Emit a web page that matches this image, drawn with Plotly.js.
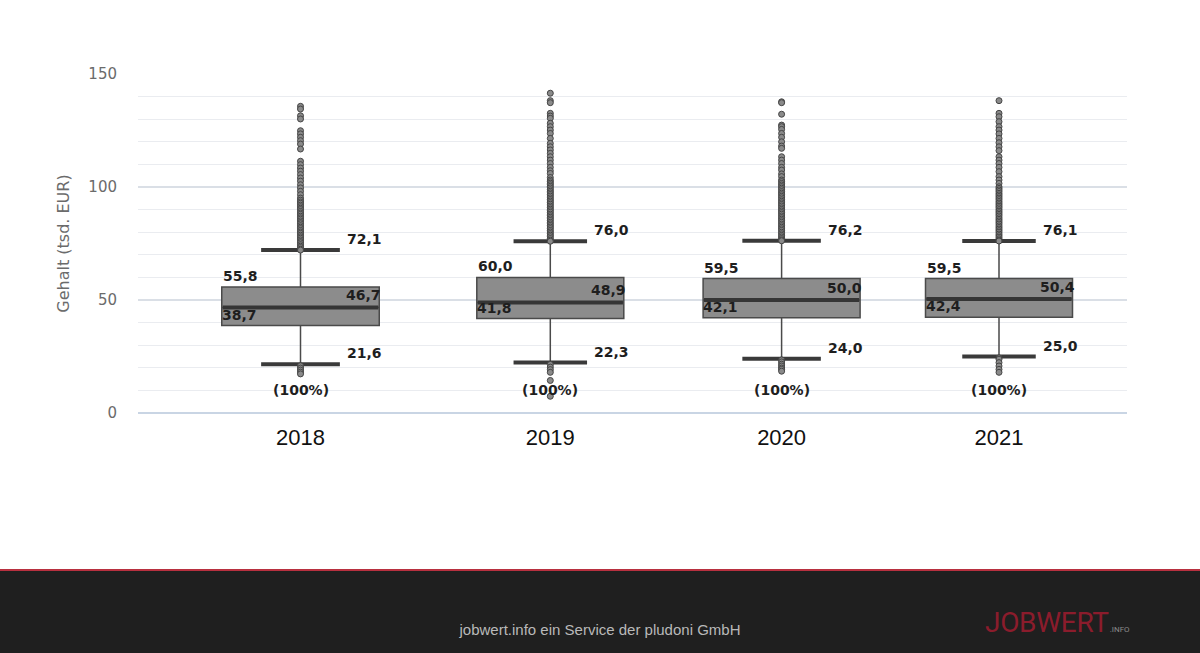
<!DOCTYPE html>
<html>
<head>
<meta charset="utf-8">
<script src="https://cdn.plot.ly/plotly-3.0.1.min.js"></script>
<style>
  html, body { margin: 0; padding: 0; background: #fff; width: 1200px; height: 653px; overflow: hidden; }
  #chart { width: 1200px; height: 569px; }
  #footer { position: absolute; left: 0; top: 569px; width: 1200px; height: 84px; background: #1f1f1f; border-top: 2px solid #b8303f; box-sizing: border-box; }
  #footer .txt { position: absolute; left: 0; width: 1200px; top: 50px; text-align: center; font-family: "Liberation Sans", Arial, sans-serif; font-size: 15px; color: #b9b9b9; }
  #footer .logo { position: absolute; left: 985px; top: 37px; font-family: "Roboto", sans-serif; font-weight: 400; font-size: 28px; color: #8b1c2c; letter-spacing: -0.3px; line-height: 30px; }
  #footer .logo span { font-size: 8px; color: #8a8a8a; letter-spacing: 0; margin-left: 1px; }
</style>
</head>
<body>
<div id="chart"></div>
<div id="footer">
  <div class="txt">jobwert.info ein Service der pludoni GmbH</div>
  <div class="logo">JOBWERT<span>.INFO</span></div>
</div>
<script>
// ---------------- DATA ----------------
const years = ["2018", "2019", "2020", "2021"];
const lowerWhisker = [21.6, 22.3, 24.0, 25.0];
const q1Values = [38.7, 41.8, 42.1, 42.4];
const medianValues = [46.7, 48.9, 50.0, 50.4];
const q3Values = [55.8, 60.0, 59.5, 59.5];
const upperWhisker = [72.1, 76.0, 76.2, 76.1];
const shareLabels = ["(100%)", "(100%)", "(100%)", "(100%)"];

const outliers2018 = [135.7, 134.5, 131.5, 130.1, 124.9, 123.5, 122.0, 120.5, 119.0, 116.8,
  111.4, 109.9, 108.4, 107.0, 105.5, 104.0, 102.6, 101.0, 99.6, 98.1, 96.6, 95.1,
  94.2, 93.4, 92.8, 92.0, 91.3, 90.6, 90.0, 89.2, 88.5, 87.9, 87.1, 86.4, 85.8, 85.0,
  84.3, 83.7, 82.9, 82.2, 81.6, 80.8, 80.1, 79.5, 78.7, 78.0, 77.4, 76.6, 75.9, 75.3,
  74.5, 73.8, 73.2, 72.5, 72.1,
  20.9, 19.9, 19.0, 18.1, 17.3];
const outliers2019 = [141.5, 138.2, 137.3, 132.6, 131.4, 130.4, 128.2, 126.7, 125.2, 123.7,
  121.5, 119.3, 117.8, 116.4, 114.9, 113.4, 111.9, 110.4, 108.7, 107.2, 106.0,
  104.2, 103.1, 102.4, 101.7, 101.0, 100.3, 99.6, 98.8, 98.1, 97.4, 96.7, 96.0, 95.2,
  94.5, 93.8, 93.1, 92.4, 91.6, 90.9, 90.2, 89.5, 88.8, 88.0, 87.3, 86.6, 85.9, 85.2,
  84.4, 83.7, 83.0, 82.3, 81.6, 80.8, 80.1, 79.4, 78.7, 78.0, 77.2, 76.5, 76.0,
  21.5, 20.3, 19.2, 18.0, 14.4, 7.4];
const outliers2020 = [137.7, 137.3, 132.2, 127.4, 126.7, 125.5, 123.7, 122.0, 120.0, 118.1,
  117.1, 113.4, 111.9, 110.4, 108.7, 107.5, 105.8, 104.6,
  103.1, 102.4, 101.6, 100.9, 100.2, 99.5, 98.8, 98.0, 97.3, 96.6, 95.9, 95.2, 94.4,
  93.7, 93.0, 92.3, 91.6, 90.8, 90.1, 89.4, 88.7, 88.0, 87.2, 86.5, 85.8, 85.1, 84.4,
  83.6, 82.9, 82.2, 81.5, 80.8, 80.0, 79.3, 78.6, 77.9, 77.2, 76.6, 76.2,
  23.5, 22.6, 21.6, 20.8, 19.9, 19.3, 18.5];
const outliers2021 = [138.2, 132.6, 131.1, 128.9, 126.7, 125.2, 123.5, 121.5, 119.6, 117.8,
  116.1, 113.4, 111.9, 110.4, 108.7, 106.8, 104.6, 103.1, 101.6,
  100.1, 99.4, 98.7, 98.0, 97.2, 96.5, 95.8, 95.1, 94.4, 93.6, 92.9, 92.2, 91.5, 90.8,
  90.0, 89.3, 88.6, 87.9, 87.2, 86.4, 85.7, 85.0, 84.3, 83.6, 82.8, 82.1, 81.4, 80.7,
  80.0, 79.2, 78.5, 77.8, 77.1, 76.5, 76.1,
  24.4, 23.8, 22.3, 20.8, 19.3, 18.0];
const outlierSeries = [outliers2018, outliers2019, outliers2020, outliers2021];

// ---------------- LAYOUT CONSTANTS (pixels) ----------------
const W = 1200, H = 569;
const M = { l: 138, r: 73, t: 74, b: 156 };
const plotW = W - M.l - M.r;
const panels = [   // panel pixel bounds, box centre, box width
  { d0: 138, d1: 430, c: 300.5, w: 157.5 },
  { d0: 430, d1: 661, c: 550.3, w: 147 },
  { d0: 661, d1: 883, c: 781.6, w: 157 },
  { d0: 883, d1: 1127, c: 999, w: 147 }
];
const BOXW = 0.5;           // box width in axis units
const CAPW = BOXW / 2;      // whisker cap width
const SHARE_Y = 10;         // level of the share label

const fmt = v => v.toFixed(1).replace('.', ',');

const traces = [];
const annotations = [];
const layout = {
  width: W, height: H,
  margin: M,
  paper_bgcolor: '#ffffff',
  plot_bgcolor: '#ffffff',
  showlegend: false,
  boxmode: 'overlay',
  yaxis: {
    range: [0, 150],
    tickmode: 'linear', tick0: 0, dtick: 50,
    showgrid: true, gridcolor: '#dadfe6', gridwidth: 1.3,
    minor: { dtick: 10, showgrid: true, gridcolor: '#eaecf0', gridwidth: 1.2 },
    zeroline: true, zerolinecolor: '#c9d5e4', zerolinewidth: 2,
    showline: false, ticks: '',
    ticklabelstandoff: 20,
    tickfont: { family: 'DejaVu Sans, Verdana, sans-serif', size: 15, color: '#6b6b6b' },
    title: { text: 'Gehalt (tsd. EUR)', standoff: 14,
             font: { family: 'DejaVu Sans, Verdana, sans-serif', size: 16, color: '#6b6b6b' } },
    fixedrange: true
  },
  annotations: annotations
};

const annFont = { family: 'DejaVu Sans, Verdana, sans-serif', size: 14, color: '#1e1e1e', weight: 'bold' };

years.forEach((yr, i) => {
  const p = panels[i];
  const s = p.w / BOXW;
  const xname = i === 0 ? 'x' : 'x' + (i + 1);
  const axKey = i === 0 ? 'xaxis' : 'xaxis' + (i + 1);
  layout[axKey] = {
    domain: [(p.d0 - M.l) / plotW, (p.d1 - M.l) / plotW],
    range: [(p.d0 - p.c) / s, (p.d1 - p.c) / s],
    anchor: 'y',
    tickmode: 'array', tickvals: [0], ticktext: [yr],
    ticks: '', showline: false, showgrid: false, zeroline: false,
    ticklabelstandoff: 9,
    tickfont: { family: 'Liberation Sans, Arial, sans-serif', size: 22, color: '#111111' },
    fixedrange: true
  };

  // box with thin outline and thin whisker stem
  traces.push({
    type: 'box', xaxis: xname, yaxis: 'y',
    x: [0], q1: [q1Values[i]], median: [medianValues[i]], q3: [q3Values[i]],
    lowerfence: [lowerWhisker[i]], upperfence: [upperWhisker[i]],
    width: BOXW, whiskerwidth: 0,
    fillcolor: '#8c8c8c', line: { color: '#4a4a4a', width: 1.5 },
    boxpoints: false, hoverinfo: 'skip'
  });
  // thick median
  traces.push({
    type: 'scatter', mode: 'lines', xaxis: xname, yaxis: 'y',
    x: [-BOXW / 2 + 0.003, BOXW / 2 - 0.003], y: [medianValues[i], medianValues[i]],
    line: { color: '#353535', width: 4 }, hoverinfo: 'skip'
  });
  // thick whisker caps
  [upperWhisker[i], lowerWhisker[i]].forEach(v => {
    traces.push({
      type: 'scatter', mode: 'lines', xaxis: xname, yaxis: 'y',
      x: [-CAPW / 2, CAPW / 2], y: [v, v],
      line: { color: '#3a3a3a', width: 4 }, hoverinfo: 'skip'
    });
  });
  // outliers
  traces.push({
    type: 'scatter', mode: 'markers', xaxis: xname, yaxis: 'y',
    x: outlierSeries[i].map(() => 0), y: outlierSeries[i],
    marker: { size: 6, color: '#8a8a8a', line: { color: '#444444', width: 1 } },
    hoverinfo: 'skip'
  });

  const base = { xref: xname, yref: 'y', showarrow: false, font: annFont, yanchor: 'bottom', borderpad: 0 };
  annotations.push(Object.assign({}, base, { x: CAPW / 2, y: upperWhisker[i], xanchor: 'left', xshift: 6, yshift: 2, text: fmt(upperWhisker[i]) }));
  annotations.push(Object.assign({}, base, { x: -BOXW / 2, y: q3Values[i], xanchor: 'left', xshift: 0, yshift: 2, text: fmt(q3Values[i]) }));
  annotations.push(Object.assign({}, base, { x: BOXW / 2, y: medianValues[i], xanchor: 'right', xshift: 3, yshift: 3, text: fmt(medianValues[i]) }));
  annotations.push(Object.assign({}, base, { x: -BOXW / 2, y: q1Values[i], xanchor: 'left', xshift: -1, yshift: 2, text: fmt(q1Values[i]) }));
  annotations.push(Object.assign({}, base, { x: CAPW / 2, y: lowerWhisker[i], xanchor: 'left', xshift: 6, yshift: 2, text: fmt(lowerWhisker[i]) }));
  annotations.push(Object.assign({}, base, { x: 0, y: SHARE_Y, yanchor: 'middle', xanchor: 'center', text: shareLabels[i] }));
});

Plotly.newPlot('chart', traces, layout, { displayModeBar: false, staticPlot: true });
</script>
</body>
</html>
